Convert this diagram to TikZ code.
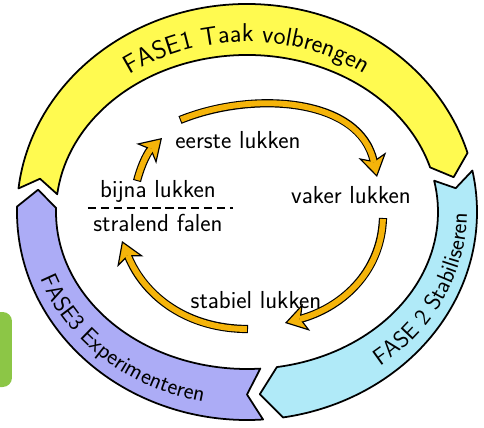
\documentclass[tikz,border=0pt]{standalone}
\usepackage{fontspec}
\usetikzlibrary{arrows.meta,decorations.text}

\definecolor{faseeen}{RGB}{255,250,80}
\definecolor{fasetwee}{RGB}{176,234,248}
\definecolor{fasedrie}{RGB}{172,172,246}
\definecolor{lusoranje}{RGB}{245,180,10}
\definecolor{groen}{RGB}{140,198,70}

\begin{document}
\begin{tikzpicture}[
        x=0.03cm, y=0.03cm,
        ring/.style={draw=black, line width=1.5pt, line join=round},
        stap/.style={font=\sffamily\fontsize{21}{24}\selectfont, inner sep=1pt},
        fasetext/.style 2 args={decorate, decoration={text along path, text align=center,
            text={|\sffamily\fontsize{#1}{24}\selectfont|#2}}},
        flowedge/.style={draw=black, line width=7pt,
            -{Stealth[length=19pt, width=24pt, inset=5pt, fill=lusoranje, line width=1pt]}},
        flowfill/.style={draw=lusoranje, line width=5pt, shorten <=0.9pt, shorten >=13pt},
        divider/.style={line width=1pt, dash pattern=on 7pt off 4pt}
    ]
    \useasboundingbox (-247,-216) rectangle (237,212);

    % green box at the left edge
    \fill[groen, rounded corners=8] (-260,-100) -- (-235,-100) -- (-235,-175) -- (-260,-175) -- cycle;

    % FASE 1
    \filldraw[ring, fill=faseeen] (173.5:230 and 208)
        arc[start angle=173.5, end angle=16.5, x radius=230, y radius=208]
        -- (11:210.5 and 182.5) -- (16.5:191 and 157)
        arc[start angle=16.5, end angle=173.5, x radius=191, y radius=157]
        -- (169.5:210.5 and 182.5) -- cycle;

    % FASE 2
    \filldraw[ring, fill=fasetwee] (11.5:230 and 208)
        arc[start angle=11.5, end angle=-81, x radius=230, y radius=208]
        -- (-86.5:210.5 and 182.5) -- (-81:191 and 157)
        arc[start angle=-81, end angle=11.5, x radius=191, y radius=157]
        -- (7.5:210.5 and 182.5) -- cycle;

    % FASE 3
    \filldraw[ring, fill=fasedrie] (274:230 and 208)
        arc[start angle=274, end angle=178.5, x radius=230, y radius=208]
        -- (173:210.5 and 182.5) -- (178.5:191 and 157)
        arc[start angle=178.5, end angle=274, x radius=191, y radius=157]
        -- (270:210.5 and 182.5) -- cycle;

    % phase titles
    \path[fasetext={22}{FASE1 Taak volbrengen}] (140:200 and 170)
        arc[start angle=140, end angle=40, x radius=200, y radius=170];
    \path[fasetext={20}{FASE 2 Stabiliseren}] (-62:220 and 194)
        arc[start angle=-62, end angle=10, x radius=220, y radius=194];
    \path[fasetext={20}{FASE3 Experimenteren}] (194:220 and 194)
        arc[start angle=194, end angle=264, x radius=220, y radius=194];

    % inner cycle
    \node[stap] (eerste) at (-9,72) {eerste lukken};
    \node[stap] (vaker) at (104,17) {vaker lukken};
    \node[stap] (bijna) at (-89,21) {bijna lukken};
    \node[stap] (stralend) at (-89,-11) {stralend falen};
    \node[stap] (stabiel) at (9,-88) {stabiel lukken};

    \coordinate (splitl) at (-159,4);
    \coordinate (splitr) at (-14,4);
    \draw[divider] (splitl) -- (splitr);

    \coordinate (bijnaout) at (-110,31);
    \coordinate (eerstein) at (-85,74);
    \coordinate (eersteout) at (-67,92);
    \coordinate (vakerin) at (130,35);
    \coordinate (vakerout) at (136,-6);
    \coordinate (stabielin) at (38,-111);
    \coordinate (stabielout) at (1,-117);
    \coordinate (stralendin) at (-125,-29);

    % arrows of the inner cycle
    \foreach \a/\b/\o/\i in {bijnaout/eerstein/75/225, eersteout/vakerin/22/102,
            vakerout/stabielin/-92/15, stabielout/stralendin/180/-68} {
        \draw[flowedge] (\a) to[out=\o, in=\i] (\b);
        \draw[flowfill] (\a) to[out=\o, in=\i] (\b);
    }

\end{tikzpicture}
\end{document}
